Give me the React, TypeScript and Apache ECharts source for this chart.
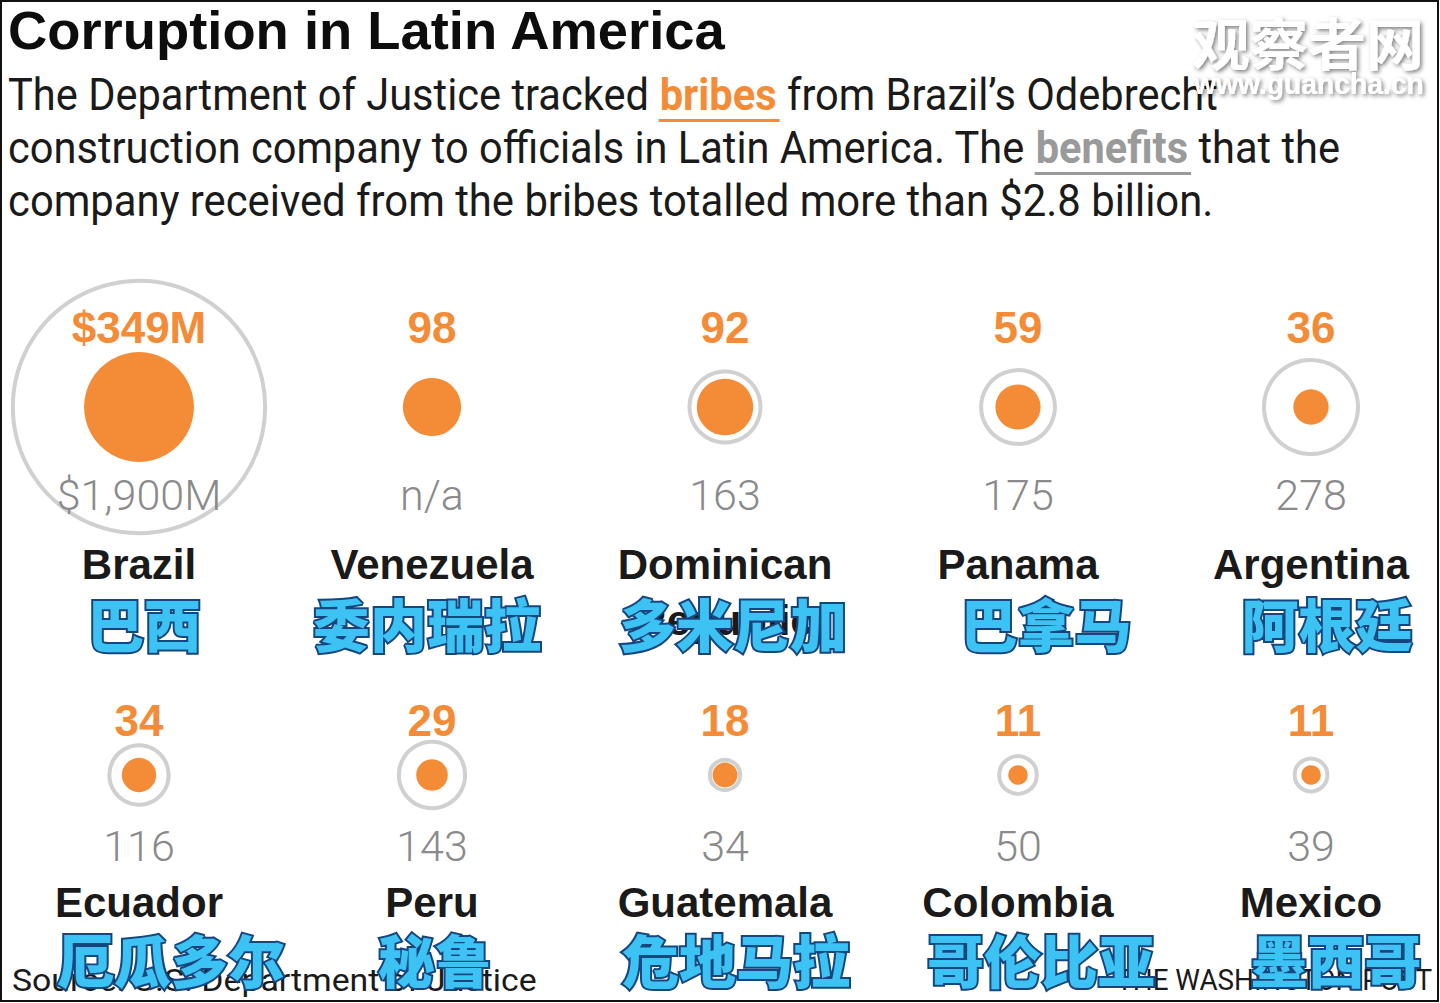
import React, { useEffect, useRef } from 'react';
import * as echarts from 'echarts';

// ---------- data ----------
const countries = ['Brazil', 'Venezuela', 'Dominican\nRepublic', 'Panama', 'Argentina', 'Ecuador', 'Peru', 'Guatemala', 'Colombia', 'Mexico'];
const countriesCn = ['巴西', '委内瑞拉', '多米尼加', '巴拿马', '阿根廷', '厄瓜多尔', '秘鲁', '危地马拉', '哥伦比亚', '墨西哥'];
const bribes = [349, 98, 92, 59, 36, 34, 29, 18, 11, 11];
const benefits: (number | null)[] = [1900, null, 163, 175, 278, 116, 143, 34, 50, 39];
const bribeLabels = ['$349M', '98', '92', '59', '36', '34', '29', '18', '11', '11'];
const benefitLabels = ['$1,900M', 'n/a', '163', '175', '278', '116', '143', '34', '50', '39'];
const gridColumn = [0, 1, 2, 3, 4, 0, 1, 2, 3, 4];
const gridRow = [0, 0, 0, 0, 0, 1, 1, 1, 1, 1];

// ---------- layout / style ----------
const K = 5.88; // px per sqrt($M), area-proportional circles
const ROW_OFFSETS = [
  { bribe: -80, benefit: 88, name: 157, cn: 215 },
  { bribe: -55, benefit: 71, name: 127, cn: 183 },
];
const CN_SHIFT = [5, -5, 8, 28, 16, 32, 3, 11, 23, 25];
const ORANGE = '#f38b37';
const RING = '#d0d0d0';

function measure(text: string, font: string) {
  const ctx = document.createElement('canvas').getContext('2d')!;
  ctx.font = font;
  return ctx.measureText(text).width;
}

type Seg = { t: string; color: string; weight: string | number; under?: string };

function fitText(text: string, x: number, cy: number, targetW: number, size: number, weight: string | number, family: string, fill: string, align: 'left' | 'right' = 'left', extra: any = {}) {
  const font = `${weight} ${size}px ${family}`;
  const w = measure(text, font);
  return {
    type: 'text', x, y: cy, scaleX: targetW / w, z: 0,
    style: { text, font, fill, textAlign: align, textVerticalAlign: 'middle', verticalAlign: 'middle', ...extra },
  };
}

function lineElements(segs: Seg[], x0: number, cy: number, targetW: number, size: number, family: string) {
  const fonts = segs.map((s) => `${s.weight} ${size}px ${family}`);
  const widths = segs.map((s, i) => measure(s.t, fonts[i]));
  const gap = measure(' ', `normal ${size}px ${family}`);
  const total = widths.reduce((a, b) => a + b, 0) + gap * (segs.length - 1);
  const sc = targetW / total;
  const els: any[] = [];
  let x = x0;
  segs.forEach((s, i) => {
    els.push({
      type: 'text', x, y: cy, scaleX: sc, z: 0,
      style: { text: s.t, font: fonts[i], fill: s.color, textAlign: 'left', textVerticalAlign: 'middle', verticalAlign: 'middle' },
    });
    if (s.under) {
      els.push({ type: 'rect', z: 0, shape: { x: x - 1, y: cy + 24, width: widths[i] * sc + 4, height: 3 }, style: { fill: s.under } });
    }
    x += (widths[i] + gap) * sc;
  });
  return els;
}

function labelSeries(texts: string[], key: 'bribe' | 'benefit' | 'name' | 'cn', style: any, dx?: number[]) {
  const lh = style.lineHeight || style.fontSize;
  return {
    type: 'scatter',
    silent: true,
    clip: false,
    symbolSize: 1,
    itemStyle: { color: 'rgba(0,0,0,0)', opacity: 1 },
    emphasis: { disabled: true },
    z: 5,
    label: { show: true, position: 'inside', opacity: 1, ...style },
    data: texts.map((t, i) => ({
      value: [gridColumn[i], gridRow[i]],
      label: {
        formatter: t,
        offset: [dx ? dx[i] : 0, ROW_OFFSETS[gridRow[i]][key] + ((t.split('\n').length - 1) * lh) / 2],
      },
    })),
  };
}

export default function App() {
  const ref = useRef<HTMLDivElement>(null);
  useEffect(() => {
    if (!ref.current) return;
    const chart = echarts.init(ref.current, undefined, { renderer: 'svg' });
    const SUB = "'Roboto', 'Liberation Sans', sans-serif";
    const shadow = { textShadowColor: 'rgba(0,0,0,0.5)', textShadowBlur: 4, textShadowOffsetX: 2, textShadowOffsetY: 2 };
    const graphics: any[] = [
      { type: 'rect', z: 0, shape: { x: 1, y: 1, width: 1437, height: 1000 }, style: { fill: '#fff', stroke: '#111', lineWidth: 2 } },
      fitText('Corruption in Latin America', 8, 30, 719, 54, 'bold', "'Liberation Sans', sans-serif", '#0d0d0d'),
      ...lineElements(
        [
          { t: 'The Department of Justice tracked', color: '#1a1a1a', weight: 'normal' },
          { t: 'bribes', color: ORANGE, weight: 'bold', under: ORANGE },
          { t: 'from Brazil’s Odebrecht', color: '#1a1a1a', weight: 'normal' },
        ], 8, 95, 1210, 45, SUB),
      ...lineElements(
        [
          { t: 'construction company to officials in Latin America. The', color: '#1a1a1a', weight: 'normal' },
          { t: 'benefits', color: '#9a9a9a', weight: 'bold', under: '#9a9a9a' },
          { t: 'that the', color: '#1a1a1a', weight: 'normal' },
        ], 8, 148, 1332, 45, SUB),
      ...lineElements(
        [{ t: 'company received from the bribes totalled more than $2.8 billion.', color: '#1a1a1a', weight: 'normal' }],
        8, 201, 1205, 45, SUB),
      fitText('Source: U.S. Department of Justice', 12, 980, 525, 32, 'normal', SUB, '#1a1a1a'),
      fitText('THE WASHINGTON POST', 1432, 980, 316, 30, 'normal', SUB, '#1a1a1a', 'right'),
      fitText('观察者网', 1192, 40, 232, 56, 'bold', "'Noto Sans CJK SC', sans-serif", '#ffffff', 'left', shadow),
      fitText('www.guancha.cn', 1194, 84, 230, 30, 'bold', "'Liberation Sans', sans-serif", '#ffffff', 'left', shadow),
    ];

    chart.setOption({
      animation: false,
      backgroundColor: '#ffffff',
      grid: { left: 139, right: 129, top: 407, bottom: 228 },
      xAxis: { type: 'value', min: 0, max: 4, show: false },
      yAxis: { type: 'value', min: 0, max: 1, inverse: true, show: false },
      graphic: graphics,
      series: [
        {
          type: 'scatter',
          silent: true,
          clip: false,
          z: 2,
          emphasis: { disabled: true },
          symbol: 'circle',
          symbolSize: (v: number[]) => K * Math.sqrt(v[2]) - 4,
          itemStyle: { color: 'rgba(255,255,255,0)', borderColor: RING, borderWidth: 4, opacity: 1 },
          data: benefits
            .map((b, i) => (b == null ? null : [gridColumn[i], gridRow[i], b]))
            .filter((d) => d !== null),
        },
        {
          type: 'scatter',
          silent: true,
          clip: false,
          z: 3,
          emphasis: { disabled: true },
          symbol: 'circle',
          symbolSize: (v: number[]) => K * Math.sqrt(v[2]),
          itemStyle: { color: ORANGE, opacity: 1 },
          data: bribes.map((b, i) => [gridColumn[i], gridRow[i], b]),
        },
        labelSeries(bribeLabels, 'bribe', {
          fontSize: 44, fontWeight: 'bold', fontFamily: "'Liberation Sans', sans-serif", color: ORANGE,
        }),
        labelSeries(benefitLabels, 'benefit', {
          fontSize: 43, fontWeight: 300, fontFamily: SUB, color: '#8a8a8a',
        }),
        labelSeries(countries, 'name', {
          fontSize: 42, fontWeight: 'bold', fontFamily: "'Liberation Sans', sans-serif", color: '#1a1a1a', lineHeight: 56,
        }),
        labelSeries(countriesCn, 'cn', {
          fontSize: 57, fontWeight: 900, fontFamily: "'Noto Sans CJK SC', sans-serif", color: '#3cc3f3',
          textBorderColor: '#17467f', textBorderWidth: 4,
        }, CN_SHIFT),
      ],
    });
    return () => chart.dispose();
  }, []);
  return <div ref={ref} style={{ position: 'absolute', left: 0, top: 0, width: 1440, height: 1003 }} />;
}
